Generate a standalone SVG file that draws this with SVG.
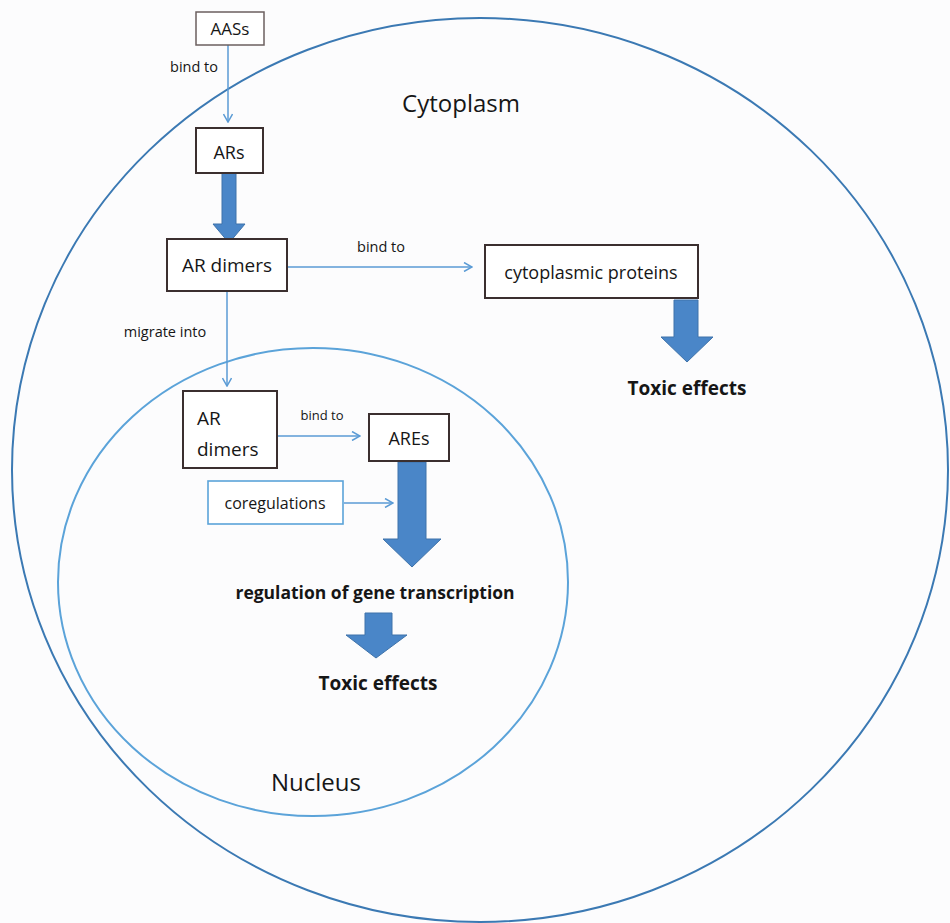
<svg xmlns="http://www.w3.org/2000/svg" width="950" height="923" viewBox="0 0 950 923">
<defs>
<style>
text{font-family:"Open Sans","Liberation Sans",sans-serif;fill:#161616;}
.box{fill:#ffffff;stroke:#3b2f2f;stroke-width:2;}
.lbox{fill:#ffffff;stroke:#5ba3d9;stroke-width:1.6;}
.conn{stroke:#5b9bd5;stroke-width:1.5;fill:none;}
.fat{fill:#4a86c8;stroke:#3f73aa;stroke-width:1;}
.b{font-weight:bold;}
.s{font-size:14.5px;}
</style>
<marker id="ah" viewBox="0 0 10 10" refX="9" refY="5" markerWidth="10" markerHeight="10" markerUnits="userSpaceOnUse" orient="auto">
<path d="M1,0.5 L9,5 L1,9.5" fill="none" stroke="#5b9bd5" stroke-width="1.5"/>
</marker>
</defs>
<rect width="950" height="923" fill="#fcfcfd"/>
<g id="cytoplasm">
<ellipse cx="480" cy="470" rx="468" ry="452" fill="none" stroke="#3b79b3" stroke-width="2"/>
<text x="461" y="112" font-size="24" text-anchor="middle">Cytoplasm</text>
</g>
<g id="nucleus">
<ellipse cx="313" cy="582" rx="255" ry="234" fill="none" stroke="#5ba3d9" stroke-width="2"/>
<text x="316" y="791" font-size="24" text-anchor="middle">Nucleus</text>
</g>
<g id="connectors">
<line class="conn" x1="228" y1="45" x2="228" y2="122" marker-end="url(#ah)"/>
<text class="s" x="194" y="72" text-anchor="middle">bind to</text>
<line class="conn" x1="288" y1="267" x2="472" y2="267" marker-end="url(#ah)"/>
<text class="s" x="381" y="252" text-anchor="middle">bind to</text>
<line class="conn" x1="227" y1="292" x2="227" y2="386" marker-end="url(#ah)"/>
<text class="s" x="165" y="337" text-anchor="middle">migrate into</text>
<line class="conn" x1="278" y1="436" x2="360" y2="436" marker-end="url(#ah)"/>
<text x="322" y="420" font-size="13" text-anchor="middle">bind to</text>
<line class="conn" x1="344" y1="503" x2="393" y2="503" marker-end="url(#ah)"/>
<path class="fat" d="M222,173 H236 V224 H245 L229,243 L213,224 H222 Z"/>
<path class="fat" d="M674,300 H698 V337 H713 L687,362 L661,337 H674 Z"/>
<path class="fat" d="M398,462 H426 V539 H441 L412,567 L383,539 H398 Z"/>
<path class="fat" d="M365,613 H392 V635 H407 L376,658 L346,635 H365 Z"/>
</g>
<g id="AASs">
<rect x="196" y="12" width="68" height="33" fill="#fff" stroke="#6b5f5f" stroke-width="1.5"/>
<text x="230" y="35" font-size="17" text-anchor="middle">AASs</text>
</g>
<g id="ARs">
<rect class="box" x="196" y="128" width="67" height="45"/>
<text x="229" y="159" font-size="18" text-anchor="middle">ARs</text>
</g>
<g id="ARdimers1">
<rect class="box" x="167" y="239" width="120" height="52"/>
<text x="227" y="272" font-size="19" text-anchor="middle">AR dimers</text>
</g>
<g id="cytoplasmic-proteins">
<rect class="box" x="485" y="245" width="213" height="53"/>
<text x="591" y="279" font-size="18" text-anchor="middle">cytoplasmic proteins</text>
</g>
<g id="toxic1">
<text x="687" y="395" font-size="19" text-anchor="middle" class="b">Toxic effects</text>
</g>
<g id="ARdimers2">
<rect class="box" x="183" y="391" width="94" height="77"/>
<text x="197" y="425" font-size="19">AR</text>
<text x="197" y="456" font-size="19">dimers</text>
</g>
<g id="AREs">
<rect class="box" x="369" y="414" width="80" height="47"/>
<text x="409" y="445" font-size="18" text-anchor="middle">AREs</text>
</g>
<g id="coregulations">
<rect class="lbox" x="208" y="481" width="135" height="43"/>
<text x="275" y="509" font-size="16" text-anchor="middle">coregulations</text>
</g>
<g id="regulation">
<text x="375" y="599" font-size="17.5" text-anchor="middle" class="b">regulation of gene transcription</text>
</g>
<g id="toxic2">
<text x="378" y="690" font-size="19" text-anchor="middle" class="b">Toxic effects</text>
</g>
</svg>
